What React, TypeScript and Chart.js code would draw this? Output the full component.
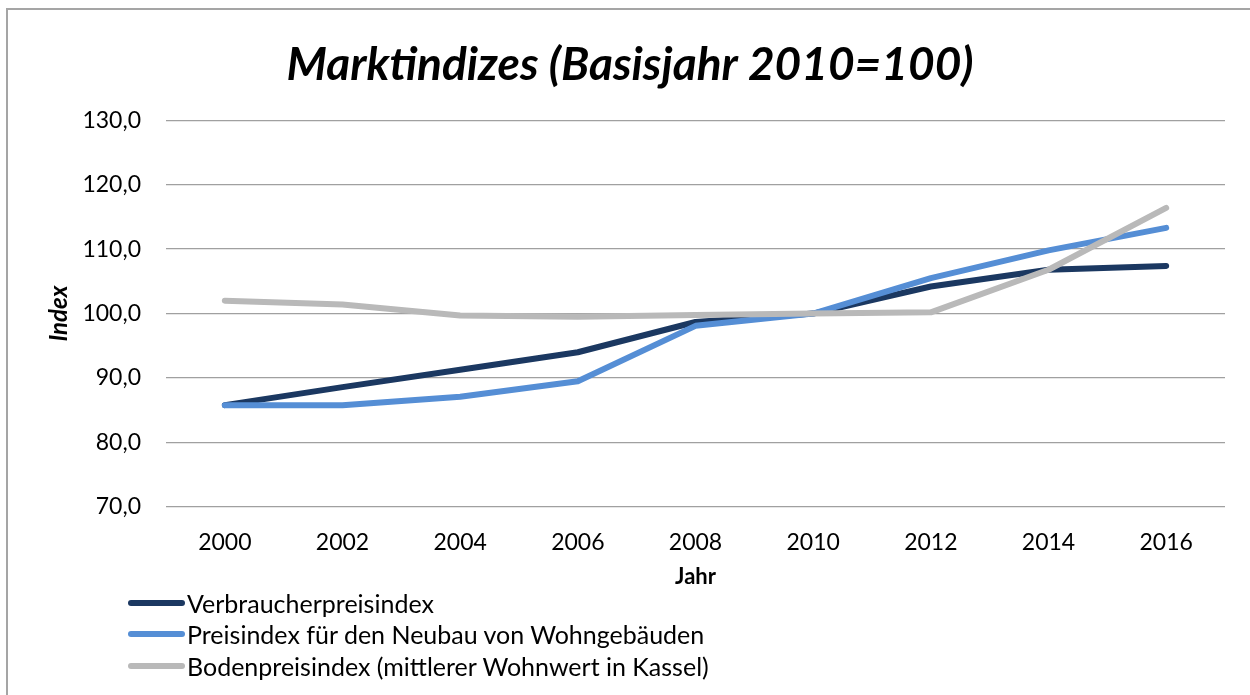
import React, { useEffect, useRef } from 'react';
import { Chart, registerables } from 'chart.js';

Chart.register(...registerables);

const years = ['2000', '2002', '2004', '2006', '2008', '2010', '2012', '2014', '2016'];
const verbraucherpreisindex = [85.8, 88.6, 91.3, 94.0, 98.7, 100.0, 104.2, 106.8, 107.4];
const neubauPreisindex = [85.8, 85.8, 87.1, 89.5, 98.1, 100.0, 105.5, 109.8, 113.3];
const bodenpreisindex = [102.0, 101.4, 99.7, 99.5, 99.8, 100.0, 100.2, 106.8, 116.4];
const seriesNames = [
  'Verbraucherpreisindex',
  'Preisindex für den Neubau von Wohngebäuden',
  'Bodenpreisindex (mittlerer Wohnwert in Kassel)',
];
const seriesColors = ['#1B3861', '#558ED5', '#B9B9B9'];
const yMin = 70;
const yMax = 130;
const yStep = 10;
const titleText = 'Marktindizes (Basisjahr 2010=100)';
const xTitle = 'Jahr';
const yTitle = 'Index';

const FONT = 'Lato, "Open Sans", sans-serif';

export default function App() {
  const canvasRef = useRef<HTMLCanvasElement | null>(null);

  useEffect(() => {
    if (!canvasRef.current) return;
    const seriesData = [verbraucherpreisindex, neubauPreisindex, bodenpreisindex];
    const chart = new Chart(canvasRef.current, {
      type: 'line',
      data: {
        labels: years,
        datasets: seriesData.map((d, i) => ({
          label: seriesNames[i],
          data: d,
          borderColor: seriesColors[i],
          backgroundColor: seriesColors[i],
          borderWidth: 6,
          borderCapStyle: 'round',
          borderJoinStyle: 'round',
          pointRadius: 0,
          pointHoverRadius: 0,
          tension: 0,
          fill: false,
          order: 2 - i,
        })),
      },
      options: {
        animation: false,
        responsive: false,
        maintainAspectRatio: false,
        layout: { padding: { left: 35, right: 25, top: 8, bottom: 105 } },
        plugins: {
          legend: { display: false },
          tooltip: { enabled: false },
          title: {
            display: true,
            text: titleText,
            color: '#000',
            font: { family: FONT, size: 46, weight: 'bold', style: 'italic' },
            padding: { top: 30, bottom: 27 },
          },
        },
        scales: {
          x: {
            offset: true,
            grid: { display: false, drawTicks: false },
            border: { display: false },
            ticks: { color: '#000', font: { family: FONT, size: 23 }, padding: 22, maxRotation: 0 },
            title: {
              display: true,
              text: xTitle,
              color: '#000',
              font: { family: FONT, size: 22, weight: 'bold' },
              padding: { top: 0, bottom: 0 },
            },
            afterFit: (scale: any) => {
              scale.height = 83;
            },
          },
          y: {
            min: yMin,
            max: yMax,
            grid: { color: '#A0A0A0', lineWidth: 1.3, drawTicks: false },
            border: { display: false },
            ticks: {
              stepSize: yStep,
              color: '#000',
              font: { family: FONT, size: 23 },
              padding: 25,
              callback: (v: any) => Number(v).toFixed(1).replace('.', ','),
            },
            title: {
              display: true,
              text: yTitle,
              color: '#000',
              font: { family: FONT, size: 24, weight: 'bold', style: 'italic' },
              padding: { top: 10, bottom: 0 },
            },
            afterFit: (scale: any) => {
              scale.width = 131;
            },
          },
        },
      },
    });
    return () => chart.destroy();
  }, []);

  return (
    <div style={{ position: 'absolute', left: 0, top: 0, width: 1250, height: 695, background: '#fff', overflow: 'hidden' }}>
      <div
        style={{
          position: 'absolute',
          left: 6,
          top: 8,
          width: 1260,
          height: 700,
          borderTop: '2px solid #A5A5A5',
          borderLeft: '2px solid #A5A5A5',
        }}
      />
      <canvas ref={canvasRef} width={1250} height={695} style={{ position: 'absolute', left: 0, top: 0 }} />
      <div style={{ position: 'absolute', left: 128, top: 587, fontFamily: FONT, fontSize: 25, color: '#000' }}>
        {seriesNames.map((name, i) => (
          <div key={name} style={{ display: 'flex', alignItems: 'center', height: 31.5, whiteSpace: 'nowrap' }}>
            <span
              style={{
                display: 'inline-block',
                width: 57,
                height: 6,
                borderRadius: 3,
                background: seriesColors[i],
                marginRight: 2,
              }}
            />
            <span>{name}</span>
          </div>
        ))}
      </div>
    </div>
  );
}
